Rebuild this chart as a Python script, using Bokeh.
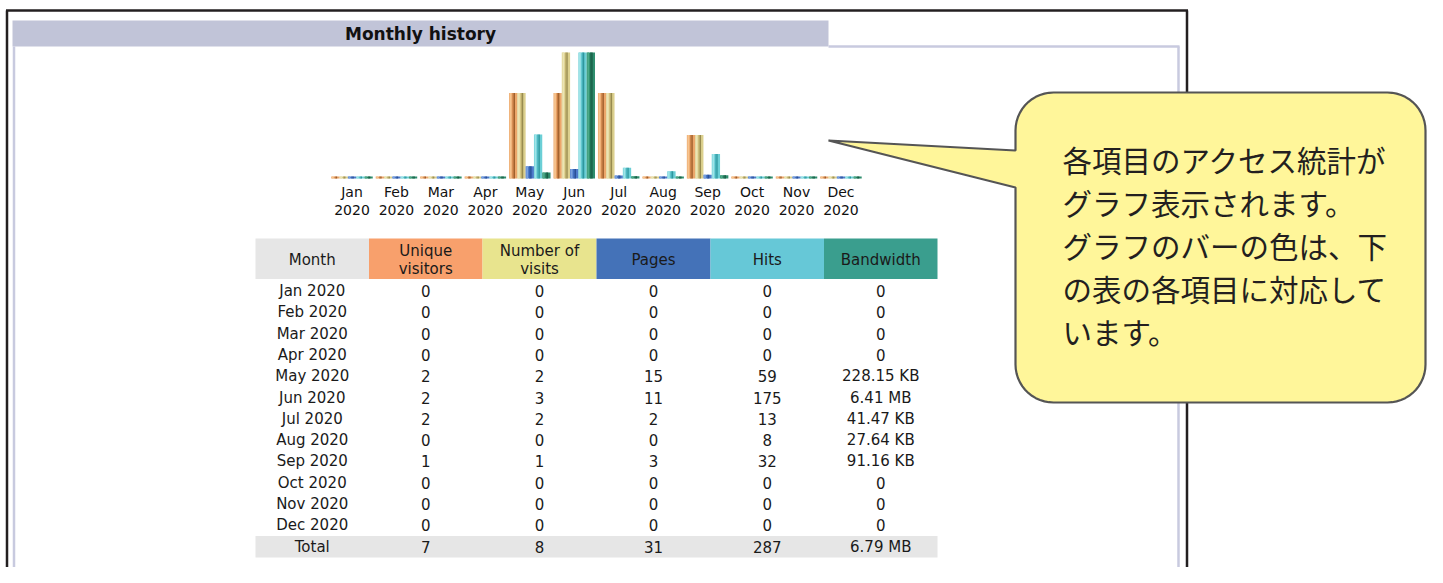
import numpy as np
from bokeh.plotting import figure
from bokeh.models import Range1d
from bokeh.core.properties import value
from bokeh.embed import file_html
from bokeh.resources import INLINE

# ---------------- data ----------------
months = ["Jan", "Feb", "Mar", "Apr", "May", "Jun", "Jul", "Aug", "Sep", "Oct", "Nov", "Dec"]
year = "2020"
unique_visitors = [0, 0, 0, 0, 2, 2, 2, 0, 1, 0, 0, 0]
visits = [0, 0, 0, 0, 2, 3, 2, 0, 1, 0, 0, 0]
pages = [0, 0, 0, 0, 15, 11, 2, 0, 3, 0, 0, 0]
hits = [0, 0, 0, 0, 59, 175, 13, 8, 32, 0, 0, 0]
bandwidth_kb = [0, 0, 0, 0, 228.15, 6563.84, 41.47, 27.64, 91.16, 0, 0, 0]
header_labels = ["Month", "Unique\nvisitors", "Number of\nvisits", "Pages", "Hits", "Bandwidth"]
title_text = "Monthly history"
callout_lines = ["各項目のアクセス統計が", "グラフ表示されます。", "グラフのバーの色は、下",
                 "の表の各項目に対応して", "います。"]


def fmt_bw(kb):
    if kb == 0:
        return "0"
    if kb >= 1024:
        return "%.2f MB" % (kb / 1024.0)
    return "%.2f KB" % kb


# ---------------- figure (pixel coordinates of the picture) ----------------
W, H = 1427, 567
p = figure(width=W, height=H, x_range=Range1d(0, W), y_range=Range1d(H, 0),
           output_backend="svg", toolbar_location=None, min_border=0)
p.axis.visible = False
p.grid.visible = False
p.outline_line_color = None
p.background_fill_color = "white"
p.border_fill_color = "white"

FONT = value("DejaVu Sans")

# outer black frame
p.segment(x0=[6.5, 5.5, 1186.5], y0=[10, 10, 10], x1=[6.5, 1187.5, 1186.5], y1=[567, 10, 567],
          line_color="#231F20", line_width=2.5)

# title bar
p.quad(left=[12], right=[828], top=[20], bottom=[46], fill_color="#C1C4D8", line_color=None)
p.text(x=[420], y=[33.5], text=[title_text], text_font=FONT, text_font_size="17px",
       text_font_style="bold", text_align="center", text_baseline="middle", text_color="#111111")
# inner panel border
p.segment(x0=[13.5, 828, 1178], y0=[46, 46, 46], x1=[13.5, 1179, 1178],
          y1=[567, 46, 567], line_color="#C8CADF", line_width=2.5)

# ---------------- bar chart ----------------
base_y = 178.0
max_h = 126.0
group_x0 = 351.5
group_dx = 44.45
bar_w = 8.3

max_vis = max(visits)
max_hits = max(hits)
max_bw = max(bandwidth_kb)
series = [
    (unique_visitors, max_vis, "#ECA66A", "#F6C590", "#C57B42", "#9C5C2A"),
    (visits, max_vis, "#DCD08E", "#ECE4B4", "#BBAB6A", "#978B50"),
    (pages, max_hits, "#4C7ACA", "#7AA2E0", "#3662B2", "#2A4F96"),
    (hits, max_hits, "#6BCFD6", "#9FE4E8", "#45AEB8", "#2E979E"),
    (bandwidth_kb, max_bw, "#2F8E6E", "#4DAA88", "#1F6E52", "#175C44"),
]
for j, (vals, vmax, c_base, c_light, c_mid, c_dark) in enumerate(series):
    v = np.array(vals, dtype=float)
    h = np.maximum(v / vmax * max_h + (v > 0) * 1.5, 2.0)
    h = np.minimum(h, max_h)
    centers = group_x0 + group_dx * np.arange(len(months))
    left = centers - 2.5 * bar_w + j * bar_w
    top = base_y - h
    bottom = np.full_like(top, base_y)
    p.quad(left=left, right=left + bar_w, top=top, bottom=bottom, fill_color=c_base, line_color=None)
    p.quad(left=left + 0.6, right=left + 2.4, top=top, bottom=bottom, fill_color=c_light, line_color=None)
    p.quad(left=left + 3.4, right=left + 4.6, top=top, bottom=bottom, fill_color=c_mid, line_color=None)
    p.quad(left=left + 4.6, right=left + 5.9, top=top, bottom=bottom, fill_color=c_dark, line_color=None)

label_x = group_x0 + group_dx * np.arange(len(months))
p.text(x=label_x, y=[191.5] * len(months), text=months, text_font=FONT, text_font_size="14px",
       text_align="center", text_baseline="middle", text_color="#111111")
p.text(x=label_x, y=[209.5] * len(months), text=[year] * len(months), text_font=FONT,
       text_font_size="14px", text_align="center", text_baseline="middle", text_color="#111111")

# ---------------- table ----------------
col_edges = [255, 368.5, 482, 596, 710, 823.5, 937]
col_colors = ["#E6E6E6", "#F8A06C", "#E8E48E", "#4472B8", "#66C8D7", "#3A9E8E"]
col_cx = [(col_edges[i] + col_edges[i + 1]) / 2 for i in range(6)]
p.quad(left=col_edges[:-1], right=col_edges[1:], top=[238] * 6, bottom=[278.5] * 6,
       fill_color=col_colors, line_color=None)
for i, lab in enumerate(header_labels):
    parts = lab.split("\n")
    if len(parts) == 1:
        ys = [259]
    else:
        ys = [250, 268]
    p.text(x=[col_cx[i]] * len(parts), y=ys, text=parts, text_font=FONT, text_font_size="15px",
           text_align="center", text_baseline="middle", text_color="#1A1A1A")

row0 = 290.5
row_dy = 21.3
row_y = [row0 + row_dy * k for k in range(len(months))]
cols = [
    [m + " " + year for m in months],
    [str(v) for v in unique_visitors],
    [str(v) for v in visits],
    [str(v) for v in pages],
    [str(v) for v in hits],
    [fmt_bw(v) for v in bandwidth_kb],
]
for i, colvals in enumerate(cols):
    p.text(x=[col_cx[i]] * len(colvals), y=row_y, text=colvals, text_font=FONT,
           text_font_size="15px", text_align="center", text_baseline="middle", text_color="#1A1A1A")

total_y = row0 + row_dy * len(months)
p.quad(left=[255], right=[937], top=[total_y - 10.5], bottom=[total_y + 11], fill_color="#E6E6E6",
       line_color=None)
totals = ["Total", str(sum(unique_visitors)), str(sum(visits)), str(sum(pages)), str(sum(hits)),
          fmt_bw(sum(bandwidth_kb))]
p.text(x=col_cx, y=[total_y] * 6, text=totals, text_font=FONT, text_font_size="15px",
       text_align="center", text_baseline="middle", text_color="#1A1A1A")

# ---------------- callout ----------------
x0, x1, y0, y1, r = 1015.0, 1425.0, 92.0, 402.0, 38.0
tip = (828.0, 140.0)
ptr_top, ptr_bot = 150.0, 187.0


def arc(cx, cy, a0, a1, n=14):
    t = np.radians(np.linspace(a0, a1, n))
    return list(cx + r * np.cos(t)), list(cy + r * np.sin(t))


xs, ys = [], []
for (cx, cy, a0, a1) in [(x0 + r, y0 + r, 180, 270), (x1 - r, y0 + r, 270, 360),
                         (x1 - r, y1 - r, 0, 90), (x0 + r, y1 - r, 90, 180)]:
    ax, ay = arc(cx, cy, a0, a1)
    xs += ax
    ys += ay
xs += [x0, tip[0], x0]
ys += [ptr_bot, tip[1], ptr_top]
p.patch(x=xs, y=ys, fill_color="#FFF69A", line_color="#555555", line_width=2.2)

line_y = [158 + 43 * k for k in range(len(callout_lines))]
p.text(x=[1062] * len(callout_lines), y=line_y, text=callout_lines,
       text_font=value("Noto Sans CJK JP"), text_font_size="29.5px", text_align="left",
       text_baseline="middle", text_color="#231F20")

open("out.html", "w").write(file_html(p, INLINE))
